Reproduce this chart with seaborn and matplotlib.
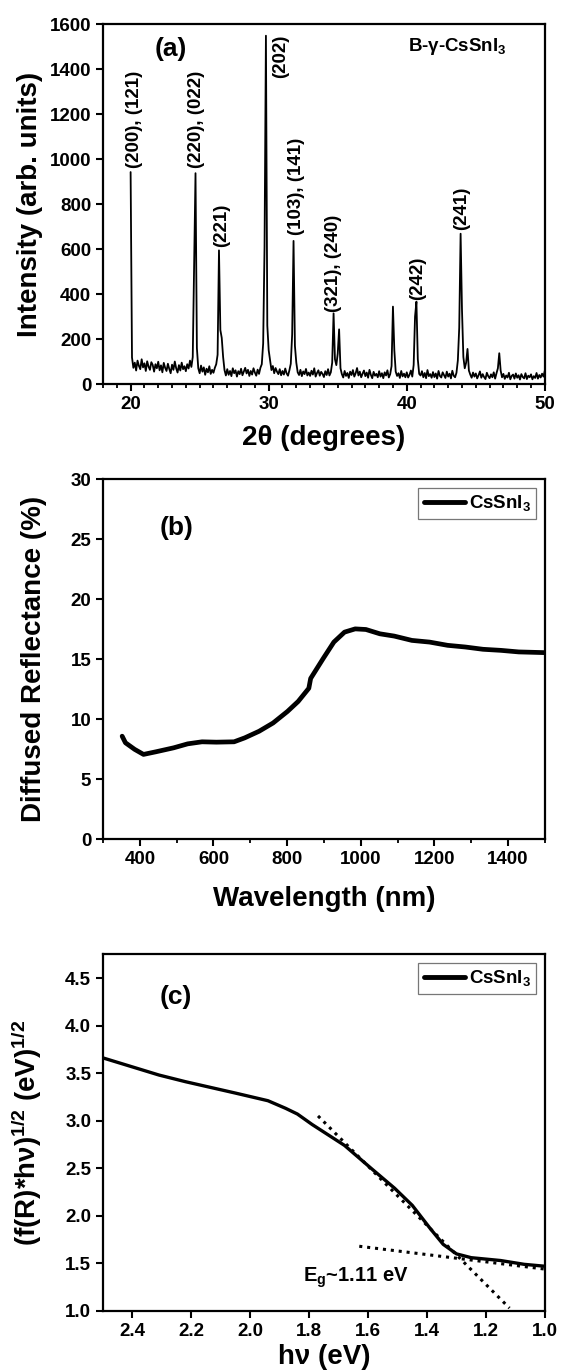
import numpy as np
import pandas as pd
import matplotlib
matplotlib.use('Agg')
import matplotlib.pyplot as plt
from matplotlib.ticker import MultipleLocator, FormatStrFormatter
import seaborn as sns

# ---- (a) XRD pattern, scan 20-50 deg, step 0.1 deg
scan_start, scan_stop = 20.0, 50.0
intensity = [
    942, 118, 72, 95, 60, 104, 81, 66, 110, 74,      # 20
    92, 58, 101, 77, 63, 97, 85, 55, 88, 70,         # 21
    99, 61, 83, 52, 94, 72, 58, 90, 67, 48,          # 22
    86, 63, 100, 70, 51, 84, 60, 95, 66, 79,         # 23
    57, 88, 69, 104, 76, 120, 520, 937, 160, 70,     # 24
    48, 82, 55, 74, 41, 68, 52, 79, 45, 63,          # 25
    50, 72, 88, 130, 594, 240, 205, 120, 62, 38,     # 26
    66, 41, 58, 35, 70, 48, 61, 33, 57, 44,          # 27
    68, 39, 55, 72, 47, 63, 36, 58, 42, 70,          # 28
    51, 37, 64, 45, 72, 88, 180, 610, 1548, 260,     # 29
    150, 105, 62, 80, 48, 71, 55, 44, 66, 39,        # 30
    58, 42, 69, 47, 37, 61, 90, 220, 636, 170,       # 31
    95, 52, 40, 63, 35, 56, 44, 67, 38, 51,          # 32
    36, 59, 42, 70, 33, 49, 61, 37, 54, 45,          # 33
    31, 57, 40, 66, 38, 52, 95, 314, 110, 84,        # 34
    135, 243, 70, 44, 29, 58, 36, 49, 27, 55,        # 35
    40, 62, 33, 48, 71, 38, 55, 30, 46, 60,          # 36
    35, 51, 28, 63, 41, 26, 54, 37, 45, 30,          # 37
    57, 33, 48, 26, 52, 38, 61, 29, 44, 80,          # 38
    344, 150, 55, 36, 48, 27, 58, 34, 46, 30,        # 39
    52, 29, 41, 60, 33, 85, 300, 366, 110, 45,       # 40
    38, 57, 30, 49, 26, 62, 35, 44, 28, 53,          # 41
    31, 47, 24, 58, 36, 29, 52, 40, 27, 55,          # 42
    33, 46, 25, 59, 37, 30, 50, 105, 250, 668,       # 43
    330, 120, 70, 95, 156, 60, 42, 28, 51, 33,       # 44
    47, 25, 39, 56, 28, 44, 31, 22, 50, 35,          # 45
    26, 43, 30, 52, 24, 48, 70, 137, 60, 30,         # 46
    45, 23, 38, 29, 50, 21, 36, 42, 24, 47,          # 47
    28, 39, 20, 44, 31, 25, 48, 22, 37, 30,          # 48
    43, 21, 35, 27, 49, 24, 40, 29, 46, 33,          # 49
    60,                                              # 50
]
two_theta = np.linspace(scan_start, scan_stop, len(intensity))

hkl_labels = ['(200), (121)', '(220), (022)', '(221)', '(202)',
              '(103), (141)', '(321), (240)', '(242)', '(241)']
hkl_pos = [20.26, 24.76, 26.56, 30.87, 32.0, 34.73, 40.77, 43.98]
hkl_base = [960, 960, 609, 1361, 661, 322, 373, 686]

# ---- (b) diffuse reflectance
wavelength = [352, 361, 386, 410, 444, 492, 530, 569, 608, 656, 685, 724,
              762, 801, 830, 859, 864, 898, 927, 956, 985, 1014, 1052,
              1091, 1139, 1187, 1236, 1284, 1332, 1381, 1429, 1501]
reflectance = [8.59, 8.04, 7.49, 7.07, 7.29, 7.62, 7.95, 8.12, 8.09, 8.12,
               8.45, 9.0, 9.69, 10.65, 11.48, 12.58, 13.4, 15.06, 16.43,
               17.26, 17.53, 17.48, 17.12, 16.93, 16.57, 16.43, 16.16,
               16.02, 15.83, 15.74, 15.61, 15.55]

# ---- (c) Kubelka-Munk plot
energy = [2.50, 2.31, 2.22, 2.05, 1.94, 1.88, 1.84, 1.79, 1.75, 1.68, 1.59,
          1.51, 1.45, 1.39, 1.345, 1.30, 1.25, 1.15, 1.07, 1.00]
km = [3.66, 3.48, 3.41, 3.29, 3.21, 3.13, 3.07, 2.96, 2.88, 2.74, 2.50,
      2.29, 2.11, 1.87, 1.70, 1.60, 1.56, 1.53, 1.49, 1.47]
tangent_e = [1.77, 1.12]
tangent_y = [3.05, 1.03]
base_e = [1.63, 1.00]
base_y = [1.68, 1.44]

sns.set_style('ticks')
plt.rcParams['font.family'] = ['Liberation Sans', 'DejaVu Sans']
plt.rcParams['font.weight'] = 'bold'
plt.rcParams['axes.labelweight'] = 'bold'
plt.rcParams['text.color'] = 'black'
plt.rcParams['axes.labelcolor'] = 'black'
plt.rcParams['xtick.color'] = 'black'
plt.rcParams['ytick.color'] = 'black'
plt.rcParams['mathtext.fontset'] = 'custom'
plt.rcParams['mathtext.bf'] = 'Liberation Sans:bold'
plt.rcParams['mathtext.rm'] = 'Liberation Sans:bold'
plt.rcParams['mathtext.it'] = 'Liberation Sans:bold'
plt.rcParams['mathtext.default'] = 'bf'

fig = plt.figure(figsize=(5.65, 13.72), dpi=100)
ax_a = fig.add_axes([0.1823, 0.7201, 0.782, 0.2624])
ax_b = fig.add_axes([0.1823, 0.3883, 0.782, 0.2624])
ax_c = fig.add_axes([0.1823, 0.0445, 0.782, 0.2600])


def style_axes(ax):
    for s in ax.spines.values():
        s.set_linewidth(1.6)
        s.set_color('black')
        s.set_visible(True)
    ax.tick_params(which='major', direction='out', length=5, width=1.5,
                   labelsize=13.5, colors='black', right=False, top=False)
    ax.tick_params(which='minor', direction='out', length=3, width=1.3,
                   right=False, top=False)
    for lab in ax.get_xticklabels() + ax.get_yticklabels():
        lab.set_fontweight('bold')


# (a)
xrd = pd.DataFrame({'two_theta': two_theta, 'intensity': intensity})
sns.lineplot(data=xrd, x='two_theta', y='intensity', ax=ax_a,
             color='black', lw=1.3)
ax_a.set_xlim(18, 50)
ax_a.set_ylim(0, 1600)
ax_a.set_xticks([20, 30, 40, 50])
ax_a.xaxis.set_minor_locator(MultipleLocator(1))
ax_a.set_yticks(range(0, 1601, 200))
ax_a.set_xlabel('2θ (degrees)', fontsize=20, labelpad=9)
ax_a.set_ylabel('Intensity (arb. units)', fontsize=20, labelpad=5)
for lab, xp, yp in zip(hkl_labels, hkl_pos, hkl_base):
    ax_a.text(xp, yp, lab, rotation=90, ha='center', va='bottom',
              fontsize=13.5, fontweight='bold', color='black')
ax_a.text(22.9, 1490, '(a)', fontsize=19, ha='center', va='center')
ax_a.text(40.1, 1500, 'B-γ-CsSnI$_3$', fontsize=13.5, ha='left', va='center')
style_axes(ax_a)

# (b)
sns.lineplot(x=wavelength, y=reflectance, ax=ax_b, color='black', lw=3.4,
             label='CsSnI$_3$')
ax_b.set_xlim(300, 1500)
ax_b.set_ylim(0, 30)
ax_b.set_xticks(range(400, 1401, 200))
ax_b.xaxis.set_minor_locator(MultipleLocator(100))
ax_b.set_yticks(range(0, 31, 5))
ax_b.set_xlabel('Wavelength (nm)', fontsize=20, labelpad=13)
ax_b.set_ylabel('Diffused Reflectance (%)', fontsize=20, labelpad=17)
ax_b.text(500, 25.9, '(b)', fontsize=19, ha='center', va='center')
style_axes(ax_b)

# (c)
sns.lineplot(x=energy, y=km, ax=ax_c, color='black', lw=2.4,
             label='CsSnI$_3$', sort=False)
sns.lineplot(x=tangent_e, y=tangent_y, ax=ax_c, color='black', lw=2.2,
             linestyle=(0, (1, 1.6)), sort=False)
sns.lineplot(x=base_e, y=base_y, ax=ax_c, color='black', lw=2.2,
             linestyle=(0, (1, 1.6)), sort=False)
ax_c.set_xlim(2.5, 1.0)
ax_c.set_ylim(1.0, 4.75)
ax_c.set_xticks([2.4, 2.2, 2.0, 1.8, 1.6, 1.4, 1.2, 1.0])
ax_c.xaxis.set_major_formatter(FormatStrFormatter('%.1f'))
ax_c.set_yticks([1.0, 1.5, 2.0, 2.5, 3.0, 3.5, 4.0, 4.5])
ax_c.yaxis.set_major_formatter(FormatStrFormatter('%.1f'))
ax_c.set_xlabel('hν (eV)', fontsize=20, labelpad=3)
ax_c.set_ylabel('(f(R)*hν)$^{1/2}$ (eV)$^{1/2}$', fontsize=20, labelpad=15)
ax_c.text(2.252, 4.30, '(c)', fontsize=19, ha='center', va='center')
ax_c.text(1.82, 1.35, 'E$_g$~1.11 eV', fontsize=14.5, ha='left', va='center')
style_axes(ax_c)

for ax in (ax_b, ax_c):
    leg = ax.legend(loc='upper right', fontsize=13.5, frameon=True,
                    fancybox=False, edgecolor='#777777', framealpha=1,
                    handlelength=2.2, handletextpad=0.2, borderpad=0.3,
                    borderaxespad=0.45)
    leg.get_frame().set_linewidth(0.9)
    for line in leg.get_lines():
        line.set_linewidth(3.5)

fig.savefig('out.png', dpi=100)
